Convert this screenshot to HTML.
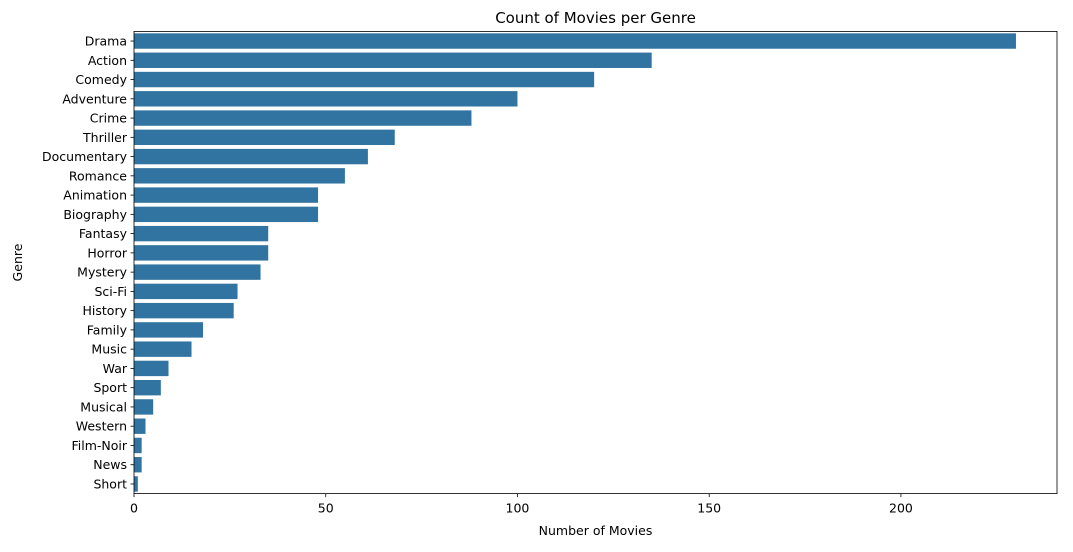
<!DOCTYPE html>
<html><head><meta charset="utf-8"><style>
body{margin:0;background:#fff;font-family:"Liberation Sans","DejaVu Sans",sans-serif;}
svg text{font-family:"DejaVu Sans","Liberation Sans",sans-serif;fill:#000;}
</style></head><body>
<svg id="chart" width="1073" height="547"></svg>
<script>
const genres=["Drama","Action","Comedy","Adventure","Crime","Thriller","Documentary","Romance","Animation","Biography","Fantasy","Horror","Mystery","Sci-Fi","History","Family","Music","War","Sport","Musical","Western","Film-Noir","News","Short"];
const counts=[230,135,120,100,88,68,61,55,48,48,35,35,33,27,26,18,15,9,7,5,3,2,2,1];
const xTicks=[0,50,100,150,200];
const L=134,R=1057,T=31.4,B=493.6,xMax=240.7;
const NS="http://www.w3.org/2000/svg";
const svg=document.getElementById('chart');
function x(v){return L+(v/xMax)*(R-L);}
const step=(B-T)/genres.length;
function y(i){return T+step*(i+0.5);}
function mk(t,a,txt){const e=document.createElementNS(NS,t);for(const k in a)e.setAttribute(k,a[k]);if(txt!==undefined)e.textContent=txt;svg.appendChild(e);return e;}
genres.forEach((g,i)=>{
  const r=mk('rect',{x:x(0),y:y(i)-step*0.4,width:x(counts[i])-x(0),height:step*0.8,fill:'#3274a1'});
  
  
  mk('line',{x1:L-3.5,x2:L,y1:y(i),y2:y(i),stroke:'#000','stroke-width':0.8});
  const t=mk('text',{x:L-7,y:y(i)+4.5,'text-anchor':'end','font-size':12.5},g);
  
  
});
xTicks.forEach(v=>{
  mk('line',{x1:x(v),x2:x(v),y1:B,y2:B+3.5,stroke:'#000','stroke-width':0.8});
  const t=mk('text',{x:x(v),y:B+19,'text-anchor':'middle','font-size':12.5},v);
  
  
});
mk('rect',{x:L,y:T,width:R-L,height:B-T,fill:'none',stroke:'#000','stroke-width':0.8});
const tt=mk('text',{x:(L+R)/2,y:23,'text-anchor':'middle','font-size':15},'Count of Movies per Genre');

const xl=mk('text',{x:(L+R)/2,y:535,'text-anchor':'middle','font-size':12.5},'Number of Movies');

const yl=mk('text',{x:22,y:(T+B)/2,'text-anchor':'middle','font-size':12.5,transform:'rotate(-90 22 '+((T+B)/2)+')'},'Genre');

</script>
</body></html>
